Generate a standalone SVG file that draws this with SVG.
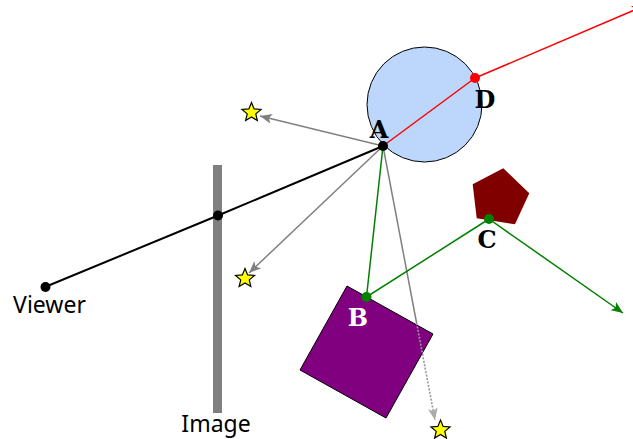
<svg xmlns="http://www.w3.org/2000/svg" width="633" height="439" viewBox="0 0 633 439">
<style>
.lbl{font-family:"DejaVu Serif","Liberation Serif",serif;font-weight:bold;font-size:24px;text-anchor:middle}
.cap{font-family:"Noto Sans","Open Sans",sans-serif;font-size:23px;text-anchor:middle;fill:#000}
.star{fill:#ffff00;stroke:#000;stroke-width:1.2}
</style>
<defs>
<path id="starShape" d="M0,-10 L2.645,-3.641 L9.511,-3.09 L4.28,1.391 L5.878,8.09 L0,4.5 L-5.878,8.09 L-4.28,1.391 L-9.511,-3.09 L-2.645,-3.641 Z"/>
<marker id="arrGray" markerWidth="12" markerHeight="10" refX="12" refY="5" orient="auto" markerUnits="userSpaceOnUse"><path d="M0,0 L12,5 L0,10 L3,5 Z" fill="#808080"/></marker>
<marker id="arrLight" markerWidth="12" markerHeight="10" refX="12" refY="5" orient="auto" markerUnits="userSpaceOnUse"><path d="M0,0 L12,5 L0,10 L3,5 Z" fill="#aaaaaa"/></marker>
<marker id="arrGreen" markerWidth="12" markerHeight="10" refX="12" refY="5" orient="auto" markerUnits="userSpaceOnUse"><path d="M0,0 L12,5 L0,10 L3,5 Z" fill="#008000"/></marker>
<marker id="arrRed" markerWidth="12" markerHeight="10" refX="12" refY="5" orient="auto" markerUnits="userSpaceOnUse"><path d="M0,0 L12,5 L0,10 L3,5 Z" fill="#ff0000"/></marker>
</defs>

<g id="image-plane">
<rect x="213" y="165" width="9" height="248" fill="#808080"/>
<text class="cap" x="216" y="432">Image</text>
</g>

<g id="sphere">
<circle cx="424.5" cy="104.5" r="57.5" fill="#bcd7fb" stroke="#000" stroke-width="1"/>
</g>

<g id="square">
<polygon points="347,286 433,334 386,418 300,370" fill="#800080" stroke="#000" stroke-width="1"/>
</g>

<g id="pentagon">
<polygon points="503.3,168.3 529.3,193.3 515,224.3 476.7,218.3 472.7,184.3" fill="#800000"/>
</g>

<g id="connectors" fill="none">
<line x1="383" y1="146" x2="260" y2="116" stroke="#808080" stroke-width="1.5" marker-end="url(#arrGray)"/>
<line x1="383" y1="146" x2="249" y2="273" stroke="#808080" stroke-width="1.5" marker-end="url(#arrGray)"/>
<line x1="383" y1="146" x2="416.6" y2="323" stroke="#808080" stroke-width="1.5"/>
<line x1="416.6" y1="323" x2="435" y2="420" stroke="#999999" stroke-width="1.6" stroke-dasharray="2,1.5" marker-end="url(#arrLight)"/>
<polyline points="45,287 218,215.5 383,146" stroke="#000" stroke-width="2"/>
<polyline points="383,146 475,78" stroke="#ff0000" stroke-width="1.5"/>
<line x1="475" y1="78" x2="644" y2="6" stroke="#ff0000" stroke-width="1.5" marker-end="url(#arrRed)"/>
<polyline points="383,146 366.5,297 489,219" stroke="#008000" stroke-width="1.5"/>
<line x1="489" y1="219" x2="623" y2="313" stroke="#008000" stroke-width="1.5" marker-end="url(#arrGreen)"/>
</g>

<g id="stars">
<use href="#starShape" class="star" transform="translate(251.5,112.5)"/>
<use href="#starShape" class="star" transform="translate(245,278.5)"/>
<use href="#starShape" class="star" transform="translate(440.5,430)"/>
</g>

<g id="viewer">
<circle cx="45.5" cy="287" r="5"/>
<text class="cap" x="49.5" y="313">Viewer</text>
</g>
<g id="image-point"><circle cx="218" cy="215.5" r="5"/></g>
<g id="point-A">
<circle cx="383" cy="146" r="5"/>
<text class="lbl" x="379" y="137.5">A</text>
</g>
<g id="point-D">
<circle cx="475" cy="78" r="5" fill="#ff0000"/>
<text class="lbl" x="485" y="108">D</text>
</g>
<g id="point-B">
<circle cx="366.5" cy="297" r="5" fill="#008000"/>
<text class="lbl" x="358" y="325.5" fill="#ffffff">B</text>
</g>
<g id="point-C">
<circle cx="489" cy="219" r="5" fill="#008000"/>
<text class="lbl" x="487" y="248">C</text>
</g>
</svg>
